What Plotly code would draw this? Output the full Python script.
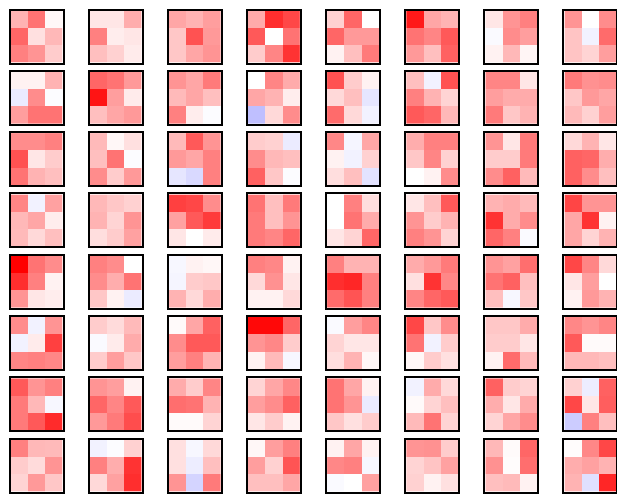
import plotly.graph_objects as go

# 3x3 filter weights, one list per grid row (8 filters each), normalised to [-1, 1]
row_1 = [
    [[0.30, 0.55, 0.03], [0.60, 0.12, 0.28], [0.50, 0.42, 0.20]],
    [[0.10, 0.10, 0.32], [0.50, 0.07, 0.10], [0.25, 0.18, 0.08]],
    [[0.35, 0.30, 0.38], [0.22, 0.68, 0.40], [0.22, 0.35, 0.42]],
    [[0.33, 0.82, 0.72], [0.65, 0.00, 0.55], [0.20, 0.48, 0.80]],
    [[0.18, 0.60, 0.00], [0.60, 0.40, 0.40], [0.05, 0.25, 0.52]],
    [[0.90, 0.35, 0.30], [0.55, 0.48, 0.65], [0.40, 0.25, 0.62]],
    [[0.10, 0.42, 0.50], [-0.02, 0.45, 0.38], [0.05, 0.28, 0.04]],
    [[0.42, 0.00, 0.45], [0.23, -0.05, 0.58], [0.23, 0.17, 0.38]],
]
row_2 = [
    [[0.05, 0.05, 0.30], [-0.08, 0.45, -0.01], [0.38, 0.55, 0.55]],
    [[0.60, 0.55, 0.40], [0.92, 0.38, 0.08], [0.25, 0.35, 0.40]],
    [[0.42, 0.35, 0.52], [0.27, 0.35, 0.25], [0.50, 0.07, -0.01]],
    [[0.00, 0.48, 0.33], [0.35, 0.30, 0.07], [-0.25, 0.15, 0.45]],
    [[0.68, 0.20, 0.05], [0.15, 0.25, -0.10], [0.58, 0.15, -0.05]],
    [[0.25, -0.05, 0.68], [0.50, 0.30, 0.17], [0.65, 0.60, 0.28]],
    [[0.48, 0.48, 0.10], [0.38, 0.33, 0.33], [0.52, 0.22, 0.30]],
    [[0.52, 0.43, 0.45], [0.22, 0.40, 0.35], [0.27, 0.18, 0.38]],
]
row_3 = [
    [[0.45, 0.45, 0.50], [0.68, 0.10, 0.20], [0.55, 0.30, 0.25]],
    [[0.27, 0.03, 0.12], [0.25, 0.55, -0.01], [0.45, 0.20, 0.40]],
    [[0.27, 0.65, 0.42], [0.40, 0.35, 0.50], [-0.10, -0.15, 0.50]],
    [[0.20, 0.18, -0.08], [0.45, 0.28, 0.25], [0.62, 0.22, -0.01]],
    [[0.47, -0.04, 0.35], [0.05, -0.05, 0.18], [0.13, 0.25, -0.11]],
    [[0.32, 0.50, 0.50], [0.22, 0.48, 0.18], [0.00, 0.05, 0.45]],
    [[0.42, 0.10, 0.52], [0.20, 0.20, 0.52], [0.45, 0.62, 0.27]],
    [[0.15, 0.30, 0.10], [0.62, 0.60, 0.32], [0.62, 0.45, 0.25]],
]
row_4 = [
    [[0.48, -0.05, 0.37], [0.28, 0.35, 0.07], [0.27, 0.15, 0.25]],
    [[0.28, 0.22, 0.18], [0.30, 0.17, 0.42], [0.13, 0.20, 0.37]],
    [[0.75, 0.72, 0.45], [0.37, 0.65, 0.77], [0.10, 0.00, 0.08]],
    [[0.55, 0.25, 0.52], [0.52, 0.25, 0.42], [0.52, 0.48, 0.60]],
    [[0.00, 0.50, 0.13], [0.00, 0.55, 0.33], [0.10, 0.17, 0.60]],
    [[0.10, 0.25, 0.65], [0.42, 0.20, 0.30], [0.50, 0.42, 0.17]],
    [[0.30, 0.33, 0.27], [0.80, 0.33, 0.45], [0.60, 0.50, -0.02]],
    [[0.73, 0.42, 0.42], [0.35, 0.80, 0.05], [0.35, 0.17, 0.30]],
]
row_5 = [
    [[1.00, 0.55, 0.45], [0.82, 0.50, 0.05], [0.42, 0.10, 0.07]],
    [[0.50, 0.45, 0.00], [0.45, 0.32, 0.55], [0.22, 0.05, -0.08]],
    [[-0.03, 0.05, 0.03], [-0.04, 0.20, 0.22], [0.30, 0.15, 0.32]],
    [[0.50, 0.47, 0.05], [0.15, 0.43, 0.10], [0.05, 0.05, 0.15]],
    [[0.50, 0.30, 0.30], [0.82, 0.85, 0.50], [0.58, 0.67, 0.50]],
    [[0.33, 0.40, 0.52], [0.12, 0.80, 0.47], [0.48, 0.60, 0.65]],
    [[0.42, 0.37, 0.57], [0.55, 0.62, 0.25], [0.25, -0.03, 0.22]],
    [[0.72, 0.48, 0.15], [0.10, 0.38, 0.00], [0.05, 0.40, 0.30]],
]
row_6 = [
    [[0.45, -0.05, 0.42], [-0.05, 0.08, 0.75], [0.48, 0.50, 0.47]],
    [[0.20, 0.14, 0.27], [-0.02, 0.08, 0.33], [0.20, 0.38, 0.22]],
    [[0.02, 0.35, 0.62], [0.45, 0.65, 0.65], [0.38, 0.50, 0.30]],
    [[0.97, 0.97, 0.60], [0.42, 0.47, 0.20], [0.05, 0.27, -0.03]],
    [[-0.02, 0.38, 0.48], [0.17, 0.10, 0.10], [0.13, 0.30, 0.03]],
    [[0.72, 0.22, 0.45], [0.55, -0.05, 0.20], [0.03, 0.20, 0.12]],
    [[0.22, 0.22, 0.33], [0.20, 0.20, 0.10], [0.05, 0.58, 0.27]],
    [[0.47, 0.42, 0.48], [0.65, 0.02, 0.02], [0.28, 0.28, 0.25]],
]
row_7 = [
    [[0.65, 0.42, 0.50], [0.52, 0.28, -0.03], [0.52, 0.65, 0.83]],
    [[0.42, 0.38, 0.05], [0.60, 0.48, 0.65], [0.40, 0.52, 0.70]],
    [[0.33, 0.20, 0.48], [0.57, 0.55, 0.30], [0.02, 0.02, 0.17]],
    [[0.17, 0.35, 0.47], [0.38, 0.45, 0.62], [0.10, 0.20, 0.05]],
    [[0.55, 0.35, 0.05], [0.55, 0.42, -0.08], [0.22, 0.12, 0.20]],
    [[-0.05, 0.33, 0.15], [0.02, 0.17, 0.25], [0.27, 0.55, 0.17]],
    [[0.62, 0.20, 0.17], [0.32, 0.10, 0.33], [0.17, 0.35, 0.45]],
    [[0.18, -0.07, 0.62], [0.72, 0.10, 0.63], [-0.20, 0.50, 0.25]],
]
row_8 = [
    [[0.50, 0.28, 0.27], [0.20, 0.14, 0.42], [0.17, 0.40, 0.22]],
    [[-0.05, -0.01, 0.18], [0.50, 0.32, 0.80], [0.15, 0.37, 0.82]],
    [[0.12, -0.03, 0.15], [0.12, -0.07, 0.25], [0.42, -0.17, 0.52]],
    [[0.03, 0.38, 0.50], [0.38, 0.18, 0.67], [0.25, 0.25, 0.35]],
    [[0.05, 0.35, 0.05], [0.47, 0.50, -0.03], [-0.02, 0.00, 0.37]],
    [[0.42, 0.43, 0.20], [0.17, 0.23, 0.37], [0.18, 0.05, 0.12]],
    [[0.28, 0.02, 0.60], [0.43, 0.01, 0.57], [0.25, 0.27, 0.05]],
    [[0.01, 0.47, 0.72], [0.32, 0.37, 0.30], [0.30, -0.12, 0.85]],
]

grid = [row_1, row_2, row_3, row_4, row_5, row_6, row_7, row_8]

# matplotlib 'bwr'
bwr = [[0.0, "rgb(0,0,255)"], [0.5, "rgb(255,255,255)"], [1.0, "rgb(255,0,0)"]]

W, H = 625, 500
left, top = 2.5, 2.5          # page body margin adds ~8px
pitch_x, pitch_y = 79.14, 61.3
size = 52

fig = go.Figure()
layout = {}
for r, row in enumerate(grid):
    for c, filt in enumerate(row):
        k = r * 8 + c + 1
        sfx = "" if k == 1 else str(k)
        fig.add_trace(go.Heatmap(
            z=filt, colorscale=bwr, zmin=-1, zmax=1, showscale=False,
            xaxis="x" + sfx, yaxis="y" + sfx, hoverinfo="z",
        ))
        x0 = (left + c * pitch_x) / W
        y1 = 1 - (top + r * pitch_y) / H
        axis = dict(showticklabels=False, ticks="", showgrid=False, zeroline=False,
                    showline=True, mirror=True, linecolor="black", linewidth=1.6)
        layout["xaxis" + sfx] = dict(axis, domain=[x0, x0 + size / W], range=[-0.5, 2.5],
                                     anchor="y" + sfx)
        layout["yaxis" + sfx] = dict(axis, domain=[y1 - size / H, y1], range=[2.5, -0.5],
                                     anchor="x" + sfx)

fig.update_layout(
    width=W, height=H, margin=dict(l=0, r=0, t=0, b=0),
    paper_bgcolor="white", plot_bgcolor="white", showlegend=False,
    **layout
)

fig.write_html("out.html")
